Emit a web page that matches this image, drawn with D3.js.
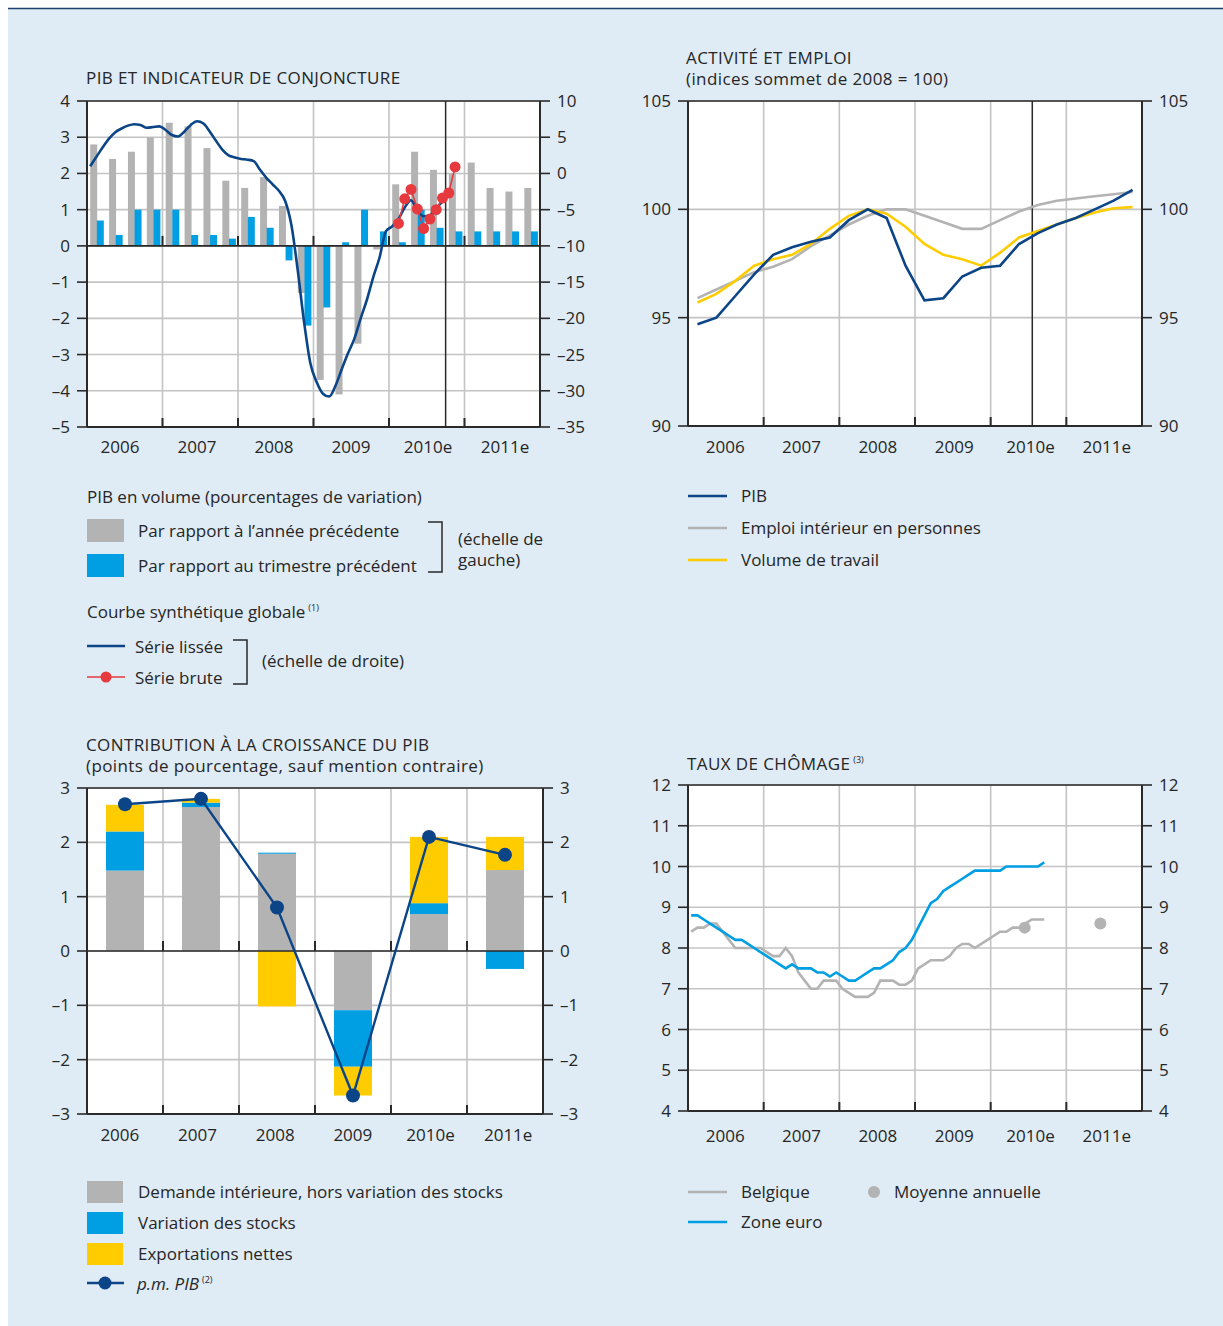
<!DOCTYPE html>
<html>
<head>
  <meta charset="UTF-8" />
  <title>Belgique - conjoncture</title>
  <script src="https://d3js.org/d3.v7.min.js"></script>
  <style>
    body { margin: 0; background: #fff; }
    svg text { font-family: "Open Sans", sans-serif; fill: #262626; font-size: 17px; }
    svg text.titre { letter-spacing: 0.4px; }
  </style>
</head>
<body>
<svg id="chart" width="1223" height="1326"></svg>
<script>
  // ---- donnees ----
  var annees = ["2006", "2007", "2008", "2009", "2010e", "2011e"];

  // PIB en volume, trimestriel 2006T1 - 2011T4
  var pibAnnee = [2.8, 2.4, 2.6, 3.0, 3.4, 3.3, 2.7, 1.8, 1.6, 1.9, 1.1, -1.3,
                  -3.7, -4.1, -2.7, -0.1, 1.7, 2.6, 2.1, 2.0, 2.3, 1.6, 1.5, 1.6];
  var pibTrimestre = [0.7, 0.3, 1.0, 1.0, 1.0, 0.3, 0.3, 0.2, 0.8, 0.5, -0.4, -2.2,
                      -1.7, 0.1, 1.0, 0.4, 0.1, 1.0, 0.5, 0.4, 0.4, 0.4, 0.4, 0.4];
  // courbe synthetique globale, mensuel jan 2006 - sep 2010
  var serieLissee = [1.0, 2.3, 3.6, 4.8, 5.7, 6.2, 6.6, 6.8, 6.7, 6.3, 6.4, 6.5,
                     6.0, 5.3, 5.1, 5.8, 6.7, 7.2, 6.9, 5.8, 4.5, 3.3, 2.5, 2.2,
                     2.0, 1.9, 1.7, 0.5, -0.6, -1.5, -2.4, -3.8, -7.2, -13.4, -20.5, -26.2,
                     -28.8, -30.4, -30.8, -29.3, -27.0, -24.8, -22.8, -20.0, -17.4, -14.3, -11.6, -8.0,
                     -7.3, -6.3, -4.7, -3.7, -5.1, -5.9, -5.8, -4.8, -3.9];
  var serieBruteMois = ["2010-02", "2010-03", "2010-04", "2010-05", "2010-06",
                        "2010-07", "2010-08", "2010-09", "2010-10", "2010-11"];
  var serieBrute = [-6.9, -3.5, -2.2, -4.9, -7.6, -6.3, -5.0, -3.4, -2.7, 0.9];

  // activite et emploi, trimestriel
  var idxPib = [94.7, 95.0, 96.0, 97.0, 97.9, 98.25, 98.5, 98.7, 99.5, 100.0, 99.6, 97.4,
                95.8, 95.9, 96.9, 97.3, 97.4, 98.4, 98.9, 99.3, 99.6, 100.0, 100.4, 100.9];
  var idxEmploi = [95.9, 96.3, 96.7, 97.1, 97.35, 97.7, 98.3, 98.8, 99.3, 99.7, 100.0, 100.0,
                   99.7, 99.4, 99.1, 99.1, 99.5, 99.9, 100.2, 100.4, 100.5, 100.6, 100.7, 100.8];
  var idxVolume = [95.7, 96.1, 96.7, 97.4, 97.7, 97.9, 98.4, 99.1, 99.7, 100.0, 99.8, 99.2,
                   98.4, 97.9, 97.7, 97.4, 98.0, 98.7, 99.0, 99.3, 99.6, 99.85, 100.05, 100.1];

  // contributions a la croissance, annuel
  var contribDemande = [1.48, 2.65, 1.79, -1.09, 0.68, 1.49];
  var contribStocks = [0.72, 0.08, 0.02, -1.04, 0.20, -0.33];
  var contribExport = [0.49, 0.07, -1.02, -0.53, 1.22, 0.61];
  var pibAnnuel = [2.7, 2.8, 0.8, -2.66, 2.1, 1.77];

  // taux de chomage, mensuel jan 2006 - sep 2010
  var chomBelgique = [8.4, 8.5, 8.5, 8.6, 8.6, 8.4, 8.2, 8.0, 8.0, 8.0, 8.0, 8.0,
                      7.9, 7.8, 7.8, 8.0, 7.8, 7.4, 7.2, 7.0, 7.0, 7.2, 7.2, 7.2,
                      7.0, 6.9, 6.8, 6.8, 6.8, 6.9, 7.2, 7.2, 7.2, 7.1, 7.1, 7.2,
                      7.5, 7.6, 7.7, 7.7, 7.7, 7.8, 8.0, 8.1, 8.1, 8.0, 8.1, 8.2,
                      8.3, 8.4, 8.4, 8.5, 8.5, 8.6, 8.7, 8.7, 8.7];
  var chomZoneEuro = [8.8, 8.8, 8.7, 8.6, 8.5, 8.4, 8.3, 8.2, 8.2, 8.1, 8.0, 7.9,
                      7.8, 7.7, 7.6, 7.5, 7.6, 7.5, 7.5, 7.5, 7.4, 7.4, 7.3, 7.4,
                      7.3, 7.2, 7.2, 7.3, 7.4, 7.5, 7.5, 7.6, 7.7, 7.9, 8.0, 8.2,
                      8.5, 8.8, 9.1, 9.2, 9.4, 9.5, 9.6, 9.7, 9.8, 9.9, 9.9, 9.9,
                      9.9, 9.9, 10.0, 10.0, 10.0, 10.0, 10.0, 10.0, 10.1];
  var moyenneAnnees = [2010, 2011];
  var moyenneBelgique = [8.5, 8.6];

  // ---- couleurs ----
  var gris = "#b3b3b3", bleu = "#009fe3", marine = "#0b4587",
      jaune = "#ffcc00", rouge = "#e63a3f", grille = "#c4c4c4", noir = "#2a2a2a";

  var svg = d3.select("#chart");
  svg.append("rect").attr("x", 8).attr("y", 8).attr("width", 1215).attr("height", 1318)
    .attr("fill", "#dfebf5");
  svg.append("line").attr("x1", 8).attr("x2", 1223).attr("y1", 8.5).attr("y2", 8.5)
    .attr("stroke", "#1d3f6b").attr("stroke-width", 1.5);

  function fmt(d) { return d < 0 ? "\u2013" + Math.abs(d) : String(d); }
  function moisX(x, m) { return x(2006 + (m + 0.5) / 12); }
  function trimX(x, q) { return x(2006 + (q + 0.5) / 4); }

  // cadre commun : fond blanc, grille, axes, etiquettes
  // lab = echelle des libelles d'annees, dy = decalage vertical des libelles
  function cadre(g, x, yL, yR, ticksL, ticksR, zero, lab, dy) {
    var x0 = x.range()[0], x1 = x.range()[1];
    var yb = yL.range()[0], yt = yL.range()[1];
    g.append("rect").attr("x", x0).attr("y", yt).attr("width", x1 - x0).attr("height", yb - yt)
      .attr("fill", "#fff");
    g.selectAll(".gh").data(ticksL).enter().append("line")
      .attr("x1", x0).attr("x2", x1).attr("y1", yL).attr("y2", yL)
      .attr("stroke", grille).attr("stroke-width", 1.6);
    g.selectAll(".gv").data(d3.range(2007, 2012)).enter().append("line")
      .attr("x1", x).attr("x2", x).attr("y1", yt).attr("y2", yb)
      .attr("stroke", grille).attr("stroke-width", 1.6);
    return function axes() {
      var a = g.append("g");
      a.append("line").attr("x1", x0).attr("x2", x1).attr("y1", yt).attr("y2", yt)
        .attr("stroke", noir).attr("stroke-width", 1.5);
      a.append("line").attr("x1", x0).attr("x2", x1).attr("y1", yb).attr("y2", yb)
        .attr("stroke", noir).attr("stroke-width", 2);
      a.append("line").attr("x1", x0).attr("x2", x0).attr("y1", yt).attr("y2", yb)
        .attr("stroke", noir).attr("stroke-width", 2);
      a.append("line").attr("x1", x1).attr("x2", x1).attr("y1", yt).attr("y2", yb)
        .attr("stroke", noir).attr("stroke-width", 2);
      if (zero !== null) {
        a.append("line").attr("x1", x0).attr("x2", x1).attr("y1", yL(zero)).attr("y2", yL(zero))
          .attr("stroke", noir).attr("stroke-width", 1.6);
        a.selectAll(".tz").data(d3.range(2007, 2012)).enter().append("line")
          .attr("x1", x).attr("x2", x).attr("y1", yL(zero)).attr("y2", yL(zero) - 10)
          .attr("stroke", noir).attr("stroke-width", 2);
      }
      // petits traits au bas de l'axe des annees
      a.selectAll(".tb").data(d3.range(2007, 2012)).enter().append("line")
        .attr("x1", x).attr("x2", x).attr("y1", yb).attr("y2", yb - 9)
        .attr("stroke", noir).attr("stroke-width", 2);
      // axe gauche
      a.selectAll(".tl").data(ticksL).enter().append("line")
        .attr("x1", x0 - 10).attr("x2", x0).attr("y1", yL).attr("y2", yL)
        .attr("stroke", noir).attr("stroke-width", 1.6);
      a.selectAll(".ll").data(ticksL).enter().append("text")
        .attr("x", x0 - 17).attr("y", function (d) { return yL(d) + 6; })
        .attr("text-anchor", "end").text(fmt);
      // axe droit
      a.selectAll(".tr").data(ticksR).enter().append("line")
        .attr("x1", x1).attr("x2", x1 + 10).attr("y1", yR).attr("y2", yR)
        .attr("stroke", noir).attr("stroke-width", 1.6);
      a.selectAll(".lr").data(ticksR).enter().append("text")
        .attr("x", x1 + 17).attr("y", function (d) { return yR(d) + 6; })
        .text(fmt);
      // annees
      a.selectAll(".ly").data(annees).enter().append("text")
        .attr("x", function (d, i) { return lab(2006 + i + 0.5); })
        .attr("y", yb + dy).attr("text-anchor", "middle").text(function (d) { return d; });
    };
  }

  function titre(lignes, x, y) {
    lignes.forEach(function (t, i) {
      svg.append("text").attr("class", "titre").attr("x", x).attr("y", y + i * 21).text(t);
    });
  }

  // ================= 1. PIB et indicateur de conjoncture =================
  var g1 = svg.append("g");
  var x1 = d3.scaleLinear().domain([2006, 2012]).range([87, 540]);
  var lab1 = d3.scaleLinear().domain([2006, 2012]).range([81.5, 543.5]);
  var y1L = d3.scaleLinear().domain([-5, 4]).range([427, 101]);
  var y1R = d3.scaleLinear().domain([-35, 10]).range([427, 101]);
  var axes1 = cadre(g1, x1, y1L, y1R, d3.range(-5, 5), d3.range(-35, 11, 5), 0, lab1, 26);

  var qw = (x1(2007) - x1(2006)) / 4;
  g1.selectAll(".bg").data(pibAnnee).enter().append("rect")
    .attr("x", function (d, i) { return x1(2006 + i / 4) + qw * 0.17; })
    .attr("width", qw * 0.37)
    .attr("y", function (d) { return y1L(Math.max(0, d)); })
    .attr("height", function (d) { return Math.abs(y1L(d) - y1L(0)); })
    .attr("fill", gris);
  g1.selectAll(".bb").data(pibTrimestre).enter().append("rect")
    .attr("x", function (d, i) { return x1(2006 + i / 4) + qw * 0.52; })
    .attr("width", qw * 0.37)
    .attr("y", function (d) { return y1L(Math.max(0, d)); })
    .attr("height", function (d) { return Math.abs(y1L(d) - y1L(0)); })
    .attr("fill", bleu);
  // fin des observations
  g1.append("line").attr("x1", x1(2010.75)).attr("x2", x1(2010.75))
    .attr("y1", y1L(4)).attr("y2", y1L(-5)).attr("stroke", noir).attr("stroke-width", 1.5);
  axes1();

  var ligneLissee = d3.line()
    .x(function (d, i) { return moisX(x1, i); })
    .y(function (d) { return y1R(d); })
    .curve(d3.curveMonotoneX);
  g1.append("path").datum(serieLissee).attr("d", ligneLissee)
    .attr("fill", "none").attr("stroke", marine).attr("stroke-width", 2.6);

  var parseMois = d3.timeParse("%Y-%m");
  var brute = serieBrute.map(function (v, i) {
    var dt = parseMois(serieBruteMois[i]);
    return { m: (dt.getFullYear() - 2006) * 12 + dt.getMonth(), v: v };
  });
  g1.append("path").datum(brute)
    .attr("d", d3.line().x(function (d) { return moisX(x1, d.m); }).y(function (d) { return y1R(d.v); }))
    .attr("fill", "none").attr("stroke", rouge).attr("stroke-width", 1.6);
  g1.selectAll(".pr").data(brute).enter().append("circle")
    .attr("cx", function (d) { return moisX(x1, d.m); })
    .attr("cy", function (d) { return y1R(d.v); })
    .attr("r", 5.5).attr("fill", rouge);

  titre(["PIB ET INDICATEUR DE CONJONCTURE"], 86, 84);

  // legende 1
  svg.append("text").attr("x", 87).attr("y", 503).text("PIB en volume (pourcentages de variation)");
  svg.append("rect").attr("x", 87).attr("y", 519).attr("width", 37).attr("height", 23).attr("fill", gris);
  svg.append("text").attr("x", 138).attr("y", 537).text("Par rapport \u00e0 l\u2019ann\u00e9e pr\u00e9c\u00e9dente");
  svg.append("rect").attr("x", 87).attr("y", 554).attr("width", 37).attr("height", 23).attr("fill", bleu);
  svg.append("text").attr("x", 138).attr("y", 572).text("Par rapport au trimestre pr\u00e9c\u00e9dent");
  svg.append("path").attr("d", "M428,522H442V572H428").attr("fill", "none")
    .attr("stroke", noir).attr("stroke-width", 1.5);
  svg.append("text").attr("x", 458).attr("y", 545).text("(\u00e9chelle de");
  svg.append("text").attr("x", 458).attr("y", 566).text("gauche)");

  var cs = svg.append("text").attr("x", 87).attr("y", 618).text("Courbe synth\u00e9tique globale");
  cs.append("tspan").attr("dx", 3).attr("dy", -7).style("font-size", "9px").text("(1)");
  svg.append("line").attr("x1", 87).attr("x2", 125).attr("y1", 646).attr("y2", 646)
    .attr("stroke", marine).attr("stroke-width", 2.4);
  svg.append("text").attr("x", 135).attr("y", 653).text("S\u00e9rie liss\u00e9e");
  svg.append("line").attr("x1", 87).attr("x2", 125).attr("y1", 677).attr("y2", 677)
    .attr("stroke", rouge).attr("stroke-width", 1.6);
  svg.append("circle").attr("cx", 106).attr("cy", 677).attr("r", 5.5).attr("fill", rouge);
  svg.append("text").attr("x", 135).attr("y", 684).text("S\u00e9rie brute");
  svg.append("path").attr("d", "M233,640H247V684H233").attr("fill", "none")
    .attr("stroke", noir).attr("stroke-width", 1.5);
  svg.append("text").attr("x", 262).attr("y", 667).text("(\u00e9chelle de droite)");

  // ================= 2. Activite et emploi =================
  var g2 = svg.append("g");
  var x2 = d3.scaleLinear().domain([2006, 2012]).range([688, 1142]);
  var lab2 = d3.scaleLinear().domain([2006, 2012]).range([687, 1145]);
  var y2 = d3.scaleLinear().domain([90, 105]).range([426, 101]);
  var axes2 = cadre(g2, x2, y2, y2, [90, 95, 100, 105], [90, 95, 100, 105], null, lab2, 27);
  g2.append("line").attr("x1", x2(2010.55)).attr("x2", x2(2010.55))
    .attr("y1", y2(105)).attr("y2", y2(90)).attr("stroke", noir).attr("stroke-width", 1.5);
  axes2();
  var ligneTrim = d3.line().x(function (d, i) { return trimX(x2, i); }).y(function (d) { return y2(d); });
  [[idxEmploi, gris], [idxVolume, jaune], [idxPib, marine]].forEach(function (s) {
    g2.append("path").datum(s[0]).attr("d", ligneTrim)
      .attr("fill", "none").attr("stroke", s[1]).attr("stroke-width", 2.6);
  });
  titre(["ACTIVIT\u00c9 ET EMPLOI", "(indices sommet de 2008 = 100)"], 686, 64);

  var leg2 = [["PIB", marine], ["Emploi int\u00e9rieur en personnes", gris], ["Volume de travail", jaune]];
  leg2.forEach(function (l, i) {
    svg.append("line").attr("x1", 688).attr("x2", 727).attr("y1", 496 + i * 32).attr("y2", 496 + i * 32)
      .attr("stroke", l[1]).attr("stroke-width", 2.6);
    svg.append("text").attr("x", 741).attr("y", 502 + i * 32).text(l[0]);
  });

  // ================= 3. Contribution a la croissance =================
  var g3 = svg.append("g");
  var x3 = d3.scaleLinear().domain([2006, 2012]).range([87, 543]);
  var lab3 = d3.scaleLinear().domain([2006, 2012]).range([81, 547]);
  var xb = d3.scaleBand().domain(annees).range([87, 543]).paddingInner(0.5).paddingOuter(0.25);
  var y3 = d3.scaleLinear().domain([-3, 3]).range([1114, 788]);
  var axes3 = cadre(g3, x3, y3, y3, d3.range(-3, 4), d3.range(-3, 4), 0, lab3, 27);

  var tab3 = annees.map(function (a, i) {
    return { annee: a, demande: contribDemande[i], stocks: contribStocks[i], exportations: contribExport[i] };
  });
  var pile = d3.stack().keys(["demande", "stocks", "exportations"])
    .offset(d3.stackOffsetDiverging)(tab3);
  var couleurs3 = { demande: gris, stocks: bleu, exportations: jaune };
  pile.forEach(function (serie) {
    g3.selectAll(".s" + serie.key).data(serie).enter().append("rect")
      .attr("x", function (d) { return xb(d.data.annee); })
      .attr("width", xb.bandwidth())
      .attr("y", function (d) { return y3(Math.max(d[0], d[1])); })
      .attr("height", function (d) { return Math.abs(y3(d[0]) - y3(d[1])); })
      .attr("fill", couleurs3[serie.key]);
  });
  axes3();
  var pmX = function (d, i) { return xb(annees[i]) + xb.bandwidth() / 2; };
  g3.append("path").datum(pibAnnuel)
    .attr("d", d3.line().x(pmX).y(function (d) { return y3(d); }))
    .attr("fill", "none").attr("stroke", marine).attr("stroke-width", 2.4);
  g3.selectAll(".pp").data(pibAnnuel).enter().append("circle")
    .attr("cx", pmX).attr("cy", function (d) { return y3(d); })
    .attr("r", 7).attr("fill", marine);
  titre(["CONTRIBUTION \u00c0 LA CROISSANCE DU PIB", "(points de pourcentage, sauf mention contraire)"], 86, 751);

  var leg3 = [["Demande int\u00e9rieure, hors variation des stocks", gris], ["Variation des stocks", bleu],
              ["Exportations nettes", jaune]];
  leg3.forEach(function (l, i) {
    svg.append("rect").attr("x", 87).attr("y", 1181 + i * 31).attr("width", 36).attr("height", 22)
      .attr("fill", l[1]);
    svg.append("text").attr("x", 138).attr("y", 1198 + i * 31).text(l[0]);
  });
  svg.append("line").attr("x1", 87).attr("x2", 124).attr("y1", 1283).attr("y2", 1283)
    .attr("stroke", marine).attr("stroke-width", 2.4);
  svg.append("circle").attr("cx", 105).attr("cy", 1283).attr("r", 6.5).attr("fill", marine);
  var pm = svg.append("text").attr("x", 137).attr("y", 1290).style("font-style", "italic").text("p.m. PIB");
  pm.append("tspan").attr("dx", 3).attr("dy", -7).style("font-size", "9px").style("font-style", "normal").text("(2)");

  // ================= 4. Taux de chomage =================
  var g4 = svg.append("g");
  var x4 = d3.scaleLinear().domain([2006, 2012]).range([688, 1142]);
  var lab4 = d3.scaleLinear().domain([2006, 2012]).range([687, 1145]);
  var y4 = d3.scaleLinear().domain([4, 12]).range([1111, 785]);
  var axes4 = cadre(g4, x4, y4, y4, d3.range(4, 13), d3.range(4, 13), null, lab4, 31);
  axes4();
  var ligneMois = d3.line().x(function (d, i) { return moisX(x4, i); }).y(function (d) { return y4(d); });
  g4.append("path").datum(chomBelgique).attr("d", ligneMois)
    .attr("fill", "none").attr("stroke", gris).attr("stroke-width", 2.6);
  g4.append("path").datum(chomZoneEuro).attr("d", ligneMois)
    .attr("fill", "none").attr("stroke", bleu).attr("stroke-width", 2.6);
  g4.selectAll(".pm").data(moyenneBelgique).enter().append("circle")
    .attr("cx", function (d, i) { return x4(moyenneAnnees[i] + 0.45); })
    .attr("cy", function (d) { return y4(d); })
    .attr("r", 6).attr("fill", gris);
  var tc = svg.append("text").attr("class", "titre").attr("x", 687).attr("y", 770).text("TAUX DE CH\u00d4MAGE");
  tc.append("tspan").attr("dx", 3).attr("dy", -7).style("font-size", "9px").style("letter-spacing", "0").text("(3)");

  svg.append("line").attr("x1", 688).attr("x2", 727).attr("y1", 1192).attr("y2", 1192)
    .attr("stroke", gris).attr("stroke-width", 2.6);
  svg.append("text").attr("x", 741).attr("y", 1198).text("Belgique");
  svg.append("line").attr("x1", 688).attr("x2", 727).attr("y1", 1222).attr("y2", 1222)
    .attr("stroke", bleu).attr("stroke-width", 2.6);
  svg.append("text").attr("x", 741).attr("y", 1228).text("Zone euro");
  svg.append("circle").attr("cx", 874).attr("cy", 1192).attr("r", 6).attr("fill", gris);
  svg.append("text").attr("x", 894).attr("y", 1198).text("Moyenne annuelle");
</script>
</body>
</html>
